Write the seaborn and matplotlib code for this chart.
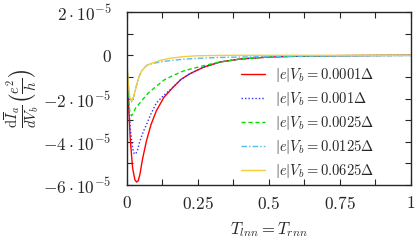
import numpy as np
import pandas as pd
import matplotlib
matplotlib.use("Agg")
import matplotlib.pyplot as plt
import seaborn as sns
from matplotlib.ticker import MultipleLocator

# curve values (y in units of 1e-5 e^2/h)
t_red = [0.0, 0.005, 0.012, 0.02, 0.028, 0.034, 0.04, 0.046, 0.055, 0.069, 0.085, 0.104, 0.13, 0.163, 0.19, 0.222, 0.27, 0.327, 0.4, 0.5, 0.6, 0.75, 0.9, 1.0]
y_red = [-0.5, -2.0, -3.9, -5.2, -5.75, -5.86, -5.8, -5.5, -4.8, -3.95, -3.2, -2.56, -1.95, -1.47, -1.12, -0.85, -0.55, -0.31, -0.17, -0.08, -0.04, -0.015, -0.005, 0.0]

t_blue = [0.0, 0.005, 0.012, 0.02, 0.026, 0.03, 0.036, 0.045, 0.057, 0.069, 0.085, 0.104, 0.13, 0.163, 0.19, 0.222, 0.27, 0.327, 0.4, 0.5, 0.6, 0.75, 0.9, 1.0]
y_blue = [-0.5, -2.0, -3.4, -4.3, -4.55, -4.57, -4.45, -4.0, -3.55, -3.2, -2.7, -2.2, -1.85, -1.47, -1.12, -0.85, -0.55, -0.31, -0.17, -0.08, -0.04, -0.015, -0.005, 0.0]

t_green = [0.0, 0.005, 0.01, 0.016, 0.022, 0.03, 0.04, 0.055, 0.075, 0.1, 0.13, 0.163, 0.2, 0.24, 0.28, 0.327, 0.4, 0.5, 0.6, 0.75, 0.9, 1.0]
y_green = [-0.5, -1.8, -2.6, -2.8, -2.7, -2.45, -2.3, -2.05, -1.75, -1.47, -1.15, -0.93, -0.72, -0.58, -0.45, -0.31, -0.17, -0.08, -0.04, -0.015, -0.005, 0.0]

t_cyan = [0.0, 0.005, 0.01, 0.016, 0.022, 0.03, 0.04, 0.05, 0.069, 0.09, 0.12, 0.163, 0.2, 0.25, 0.327, 0.4, 0.5, 0.6, 0.75, 0.9, 1.0]
y_cyan = [-0.3, -1.4, -2.0, -2.17, -2.0, -1.6, -1.1, -0.75, -0.47, -0.38, -0.3, -0.23, -0.18, -0.14, -0.1, -0.08, -0.06, -0.05, -0.03, -0.02, -0.01]

t_yellow = [0.0, 0.005, 0.01, 0.017, 0.024, 0.032, 0.04, 0.05, 0.069, 0.09, 0.12, 0.15, 0.2, 0.25, 0.327, 0.4, 0.5, 0.6, 0.75, 0.9, 1.0]
y_yellow = [-0.3, -1.3, -1.95, -2.1, -1.9, -1.5, -1.1, -0.75, -0.47, -0.35, -0.23, -0.14, -0.06, -0.02, -0.005, 0.0, 0.0, 0.0, 0.0, 0.0, 0.0]

labels = [r"$|e|V_b=$0.0001$\Delta$", r"$|e|V_b=$0.001$\Delta$", r"$|e|V_b=$0.0025$\Delta$",
          r"$|e|V_b=$0.0125$\Delta$", r"$|e|V_b=$0.0625$\Delta$"]
colors = ["#ff0000", "#3030ff", "#00e000", "#55bbee", "#f5cc40"]
styles = ["-", (0, (1, 1.5)), (0, (3, 2)), (0, (4, 1.5, 1, 1.5)), "-"]

series = [(t_red, y_red), (t_blue, y_blue), (t_green, y_green), (t_cyan, y_cyan), (t_yellow, y_yellow)]
frames = []
for lab, (t, y) in zip(labels, series):
    frames.append(pd.DataFrame({"T": t, "val": np.array(y) * 1e-5, "label": lab}))
df = pd.concat(frames, ignore_index=True)

sns.set_style("ticks")
plt.rcParams["font.family"] = ["serif"]
plt.rcParams["font.serif"] = ["cmr10", "DejaVu Serif"]
plt.rcParams["mathtext.fontset"] = "cm"
plt.rcParams["axes.unicode_minus"] = False

fig = plt.figure(figsize=(4.16, 2.41), dpi=100)
ax = fig.add_axes([0.305, 0.232, 0.683, 0.718])

for lab, col, ls in zip(labels, colors, styles):
    sub = df[df["label"] == lab]
    sns.lineplot(data=sub, x="T", y="val", ax=ax, color=col, linestyle=ls,
                 linewidth=1.0, sort=False, estimator=None, label=lab)

ax.set_xlim(0, 1)
ax.set_ylim(-6e-5, 2e-5)
ax.set_xticks([0, 0.25, 0.5, 0.75, 1])
ax.set_xticklabels(["$0$", "$0.25$", "$0.5$", "$0.75$", "$1$"])
ax.set_yticks([2e-5, 0, -2e-5, -4e-5, -6e-5])
ax.set_yticklabels([r"$2\cdot10^{-5}$", "$0$", r"$-2\cdot10^{-5}$", r"$-4\cdot10^{-5}$", r"$-6\cdot10^{-5}$"])
ax.xaxis.set_minor_locator(MultipleLocator(0.125))
ax.yaxis.set_minor_locator(MultipleLocator(1e-5))
ax.tick_params(which="both", direction="in", top=True, right=True, labelsize=12.5)
ax.tick_params(axis="x", pad=7)
ax.tick_params(axis="y", pad=11)
ax.tick_params(which="major", length=4, width=0.8)
ax.tick_params(which="minor", length=4, width=0.8)
for s in ax.spines.values():
    s.set_linewidth(1.0)

ax.set_xlabel(r"$T_{lnn}=T_{rnn}$", fontsize=12, labelpad=6)
ax.set_ylabel(r"$\frac{\mathrm{d}\overline{I}_a}{dV_b}\left(\frac{e^2}{h}\right)$", fontsize=15, labelpad=2)

ax.legend(loc="upper right", bbox_to_anchor=(0.89, 0.72), frameon=False, fontsize=10.5,
          handlelength=1.6, handletextpad=0.7, labelspacing=0.4, borderaxespad=0)

fig.savefig("out.png", dpi=100)
